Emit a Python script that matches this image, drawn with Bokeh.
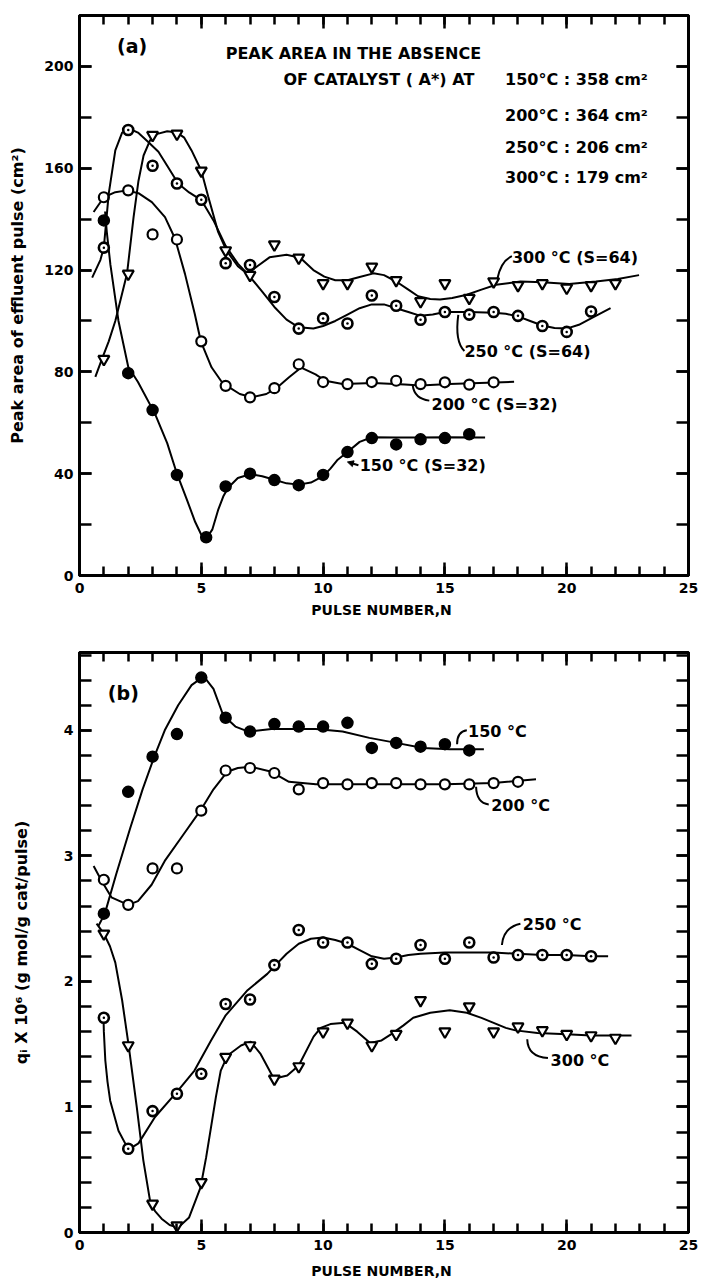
from bokeh.plotting import figure
from bokeh.layouts import column
from bokeh.models import LinearAxis, FixedTicker, Range1d, Arrow, NormalHead
from bokeh.core.properties import value
from bokeh.embed import file_html
from bokeh.resources import INLINE

FONT = "DejaVu Sans"

# ---------------- Panel (a): peak area of effluent pulse (cm^2) ----------------
a150_x = [1, 2, 3, 4, 5.2, 6, 7, 8, 9, 10, 11, 12, 13, 14, 15, 16]
a150_y = [139.5, 79.5, 65, 39.5, 15, 35, 40, 37.5, 35.5, 39.5, 48.5, 54, 51.5, 53.5, 54, 55.5]

a200_x = list(range(1, 18))
a200_y = [148.6, 151.3, 134, 132, 92, 74.5, 70, 73.6, 83, 76, 75.2, 76, 76.5, 75.2, 75.9, 75, 75.9]

a250_x = list(range(1, 22))
a250_y = [128.8, 175, 161, 154, 147.6, 122.7, 122, 109.4, 97, 101, 99, 110, 106, 100.5,
          103.5, 102.5, 103.5, 102, 98, 95.7, 103.7]

a300_x = list(range(1, 23))
a300_y = [85, 118.5, 173, 173.5, 159, 127.7, 118, 130, 124.8, 114.8, 114.8, 121.3, 116, 107.7,
          114.8, 109, 115.5, 114, 114.8, 113, 114, 114.8]

# hand-drawn smooth curves (vertices)
c150a_x = [1.05, 1.12, 1.27, 1.6, 2.0, 2.4, 3.1, 3.6, 4.0, 4.4, 4.75, 5.0, 5.1, 5.2, 5.45, 5.7, 5.9,
           6.1, 6.5, 7.0, 7.5, 8.0, 8.5, 9.0, 9.5, 10.0, 10.3, 10.6, 11.0, 11.5, 12.0, 13.0, 14.0,
           15.0, 16.65]
c150a_y = [143, 135, 122, 100, 82, 76, 63.5, 52, 40, 30, 21, 16, 15, 14.5, 18, 26, 31,
           34.5, 38.3, 39.8, 39, 37.6, 36.2, 35.7, 36.5, 39, 42, 45.5, 48.5, 52.5, 54.3, 54.2, 54.2,
           54.3, 54.2]

c200a_x = [0.58, 1.0, 1.47, 1.95, 2.42, 2.97, 3.51, 3.92, 4.33, 4.73, 4.98, 5.42, 5.82, 6.1, 6.58,
           7.07, 7.67, 8.08, 8.59, 9.1, 9.69, 10.09, 10.8, 12.07, 13.35, 14.0, 15.18, 17.84]
c200a_y = [142.8, 148.6, 150.6, 151.3, 150.2, 146.7, 140.8, 132.4, 118.5, 102.8, 92, 81.8, 76.3, 74.2, 71.3,
           70, 71.3, 73.6, 77.8, 81.7, 79, 76.5, 75.2, 75.6, 75, 74.6, 75.2, 76.1]

c250a_x = [0.52, 0.86, 1.0, 1.2, 1.47, 1.75, 2.05, 2.4, 2.8, 3.24, 3.6, 4.05, 4.5, 5.0, 5.5, 6.0,
           6.5, 6.9, 7.5, 8.0, 8.5, 9.0, 9.6, 10.0, 10.5, 11.0, 11.5, 12.0, 12.5, 13.0, 13.5, 14.0,
           14.5, 15.0, 16.0, 17.0, 17.5, 18.0, 18.5, 19.0, 19.5, 20.0, 20.5, 21.0, 21.8]
c250a_y = [117, 124, 129, 150, 167, 174, 175.5, 174, 170.5, 166.5, 161, 154, 150.5, 147.5, 139.5, 129.5,
           122.5, 118.5, 111.5, 105.5, 100.5, 97.5, 97, 98, 100, 102.5, 105, 106.5, 106.5, 105, 103.5, 102,
           102.5, 103.5, 103.5, 103.2, 102.8, 101.8, 100, 98.2, 97.2, 97.0, 98.5, 101, 105]

c300a_x = [0.65, 0.92, 1.2, 1.47, 1.95, 2.22, 2.42, 2.63, 2.9, 3.2, 3.6, 4.0, 4.3, 4.6, 5.0, 5.28,
           5.69, 6.03, 6.5, 6.9, 7.3, 7.8, 8.5, 9.06, 9.6, 10.05, 10.5, 11.0, 11.5, 12.07, 12.5, 13.0,
           13.5, 13.9, 14.4, 14.8, 15.3, 15.9, 16.5, 17.1, 18.1, 19.0, 20.1, 21.2, 22.1, 22.97]
c300a_y = [78, 85, 92, 100, 118.5, 140.8, 155, 165, 171, 173.5, 174.5, 174, 172, 167, 159, 149,
           135, 127.7, 121.5, 118.5, 121.5, 125, 126, 124.8, 120, 117.4, 116, 116, 117.3, 118.7, 118, 115.5,
           112.3, 109.7, 108.6, 108.4, 109, 110.3, 112.3, 114.2, 115.5, 115.2, 114.5, 115.5, 116.5, 118]

a_notes = ["PEAK AREA IN THE ABSENCE", "OF CATALYST ( A*) AT",
           "150°C : 358 cm²", "200°C : 364 cm²", "250°C : 206 cm²", "300°C : 179 cm²"]
a_series_labels = ["300 °C (S=64)", "250 °C (S=64)", "200 °C (S=32)", "150 °C (S=32)"]

# ---------------- Panel (b): q_i x 10^6 ----------------
b150_x = list(range(1, 17))
b150_y = [2.54, 3.51, 3.79, 3.97, 4.42, 4.10, 3.99, 4.05, 4.03, 4.03, 4.06, 3.86, 3.90, 3.87, 3.89, 3.84]

b200_x = list(range(1, 19))
b200_y = [2.81, 2.61, 2.90, 2.90, 3.36, 3.68, 3.70, 3.66, 3.53, 3.58, 3.57, 3.58, 3.58, 3.57, 3.57,
          3.57, 3.58, 3.59]

b250_x = list(range(1, 22))
b250_y = [1.71, 0.667, 0.967, 1.105, 1.264, 1.82, 1.856, 2.13, 2.41, 2.31, 2.31, 2.14, 2.18, 2.29,
          2.18, 2.31, 2.19, 2.21, 2.21, 2.21, 2.2]

b300_x = list(range(1, 23))
b300_y = [2.38, 1.49, 0.229, 0.056, 0.40, 1.397, 1.49, 1.224, 1.323, 1.6, 1.67, 1.49, 1.58, 1.85,
          1.6, 1.8, 1.6, 1.64, 1.61, 1.58, 1.57, 1.55]

c150b_x = [0.77, 1.04, 1.5, 2.08, 2.59, 3.07, 3.5, 4.05, 4.6, 5.1, 5.5, 5.9, 6.4, 6.93, 7.88, 9.7,
           10.8, 11.9, 13.0, 14.1, 15.2, 16.6]
c150b_y = [2.44, 2.54, 2.85, 3.22, 3.53, 3.79, 4.0, 4.2, 4.36, 4.43, 4.33, 4.12, 4.03, 3.99, 4.01, 4.01,
           3.99, 3.94, 3.9, 3.86, 3.85, 3.85]

c200b_x = [0.58, 0.91, 1.31, 2.0, 2.4, 2.96, 3.5, 4.23, 4.96, 5.5, 6.06, 6.5, 7.03, 7.88, 8.6, 9.7,
           11.5, 13.36, 15.0, 17.0, 18.74]
c200b_y = [2.92, 2.8, 2.67, 2.61, 2.64, 2.77, 2.96, 3.16, 3.36, 3.53, 3.67, 3.7, 3.71, 3.67, 3.59, 3.57,
           3.57, 3.57, 3.57, 3.58, 3.61]

c250b_x = [0.98, 1.0, 1.06, 1.15, 1.26, 1.6, 2.01, 2.42, 3.1, 4.0, 4.72, 5.4, 6.0, 6.9, 7.71, 8.05,
           8.5, 9.0, 9.5, 10.0, 10.5, 11.0, 11.5, 12.0, 12.5, 13.0, 13.5, 14.0, 15.0, 16.0, 17.0, 18.0,
           19.0, 20.0, 21.0, 21.7]
c250b_y = [1.75, 1.6, 1.37, 1.2, 1.05, 0.81, 0.66, 0.71, 0.92, 1.12, 1.29, 1.53, 1.73, 1.93, 2.06, 2.13,
           2.22, 2.30, 2.34, 2.35, 2.33, 2.30, 2.25, 2.20, 2.18, 2.19, 2.21, 2.22, 2.23, 2.23, 2.23, 2.22,
           2.21, 2.21, 2.2, 2.2]

c300b_x = [0.7, 1.0, 1.25, 1.47, 1.75, 2.01, 2.35, 2.62, 2.89, 3.1, 3.37, 3.7, 4.05, 4.5, 4.97, 5.2,
           5.4, 5.6, 5.8, 6.08, 6.63, 7.03, 7.44, 7.98, 8.53, 9.0, 9.61, 9.9, 10.3, 10.9, 11.4, 11.93,
           12.4, 12.8, 13.3, 13.7, 14.4, 15.2, 15.9, 16.5, 17.0, 17.5, 17.9, 18.8, 20.0, 21.0, 22.66]
c300b_y = [2.46, 2.38, 2.28, 2.15, 1.85, 1.5, 1.0, 0.575, 0.26, 0.17, 0.11, 0.06, 0.04, 0.12, 0.36, 0.6,
           0.84, 1.08, 1.29, 1.41, 1.49, 1.52, 1.42, 1.225, 1.25, 1.33, 1.56, 1.63, 1.66, 1.67, 1.6, 1.51,
           1.53, 1.58, 1.65, 1.71, 1.75, 1.77, 1.75, 1.71, 1.67, 1.63, 1.61, 1.59, 1.58, 1.57, 1.57]

b_series_labels = ["150 °C", "200 °C", "250 °C", "300 °C"]

x_major = [0, 5, 10, 15, 20, 25]
x_minor = list(range(0, 26))
a_y_major = [0, 40, 80, 120, 160, 200]
a_y_minor = list(range(0, 221, 20))
b_y_major = [0, 1, 2, 3, 4]
b_y_minor = [round(0.2 * i, 1) for i in range(0, 24)]


def style_axes(p, yticks, yminor, ylabel, ylabel_standoff, xlabel_standoff):
    bottom = p.below[0]
    left = p.left[0]
    xt = FixedTicker(ticks=x_major, minor_ticks=x_minor)
    yt = FixedTicker(ticks=yticks, minor_ticks=yminor)
    bottom.ticker = xt
    left.ticker = yt
    top = LinearAxis(ticker=FixedTicker(ticks=x_major, minor_ticks=x_minor))
    right = LinearAxis(ticker=FixedTicker(ticks=yticks, minor_ticks=yminor))
    for ax in [bottom, top]:
        ax.major_tick_in = 13
        ax.minor_tick_in = 9
    for ax in [left, right]:
        ax.major_tick_in = 12
        ax.minor_tick_in = 12
    for ax in [bottom, left, top, right]:
        ax.major_tick_out = 0
        ax.minor_tick_out = 0
        ax.axis_line_width = 3
        ax.major_tick_line_width = 2.5
        ax.minor_tick_line_width = 2.5
        ax.axis_line_color = "black"
        ax.major_tick_line_color = "black"
        ax.minor_tick_line_color = "black"
        ax.major_label_text_font = FONT
        ax.major_label_text_font_style = "bold"
        ax.major_label_text_font_size = "14px"
        ax.major_label_text_color = "black"
    for ax in [top, right]:
        ax.major_label_text_color = None
        ax.major_label_text_font_size = "1px"
        ax.major_label_standoff = 0
    p.add_layout(top, "above")
    p.add_layout(right, "right")
    bottom.major_label_standoff = 7
    left.major_label_standoff = 6
    bottom.axis_label = "PULSE  NUMBER,N"
    left.axis_label = ylabel
    for ax in [bottom, left]:
        ax.axis_label_text_font = FONT
        ax.axis_label_text_font_style = "bold"
        ax.axis_label_text_font_size = "16px"
        ax.axis_label_text_color = "black"
    bottom.axis_label_text_font_size = "14px"
    bottom.axis_label_standoff = xlabel_standoff
    left.axis_label_standoff = ylabel_standoff
    left.major_label_overrides = {t: "" for t in yminor if t not in yticks}
    p.xgrid.visible = False
    p.ygrid.visible = False
    p.outline_line_color = "black"
    p.outline_line_width = 3


def draw_series(p, cx, cy, px, py, marker, fill, lw, size):
    p.line(cx, cy, line_color="black", line_width=2)
    p.scatter(px, py, marker=marker, size=size, fill_color=fill, line_color="black", line_width=lw)


def txt(p, xs, ys, texts, size="16px", align="left"):
    p.text(x=xs, y=ys, text=texts, text_font=value(FONT), text_font_style="bold",
           text_font_size=value(size), text_baseline="middle", text_align=align, text_color="black")


# ---------------- figure (a) ----------------
pa = figure(width=700, height=625, x_range=Range1d(0, 25), y_range=Range1d(0, 220),
            output_backend="svg", toolbar_location=None,
            min_border_left=79, min_border_right=8, min_border_top=15, min_border_bottom=50)
style_axes(pa, a_y_major, a_y_minor, "Peak area of effluent pulse (cm²)", 14, 6)

draw_series(pa, c150a_x, c150a_y, a150_x, a150_y, "circle", "black", 1.5, 11)
draw_series(pa, c200a_x, c200a_y, a200_x, a200_y, "circle", "white", 2.2, 10)
draw_series(pa, c250a_x, c250a_y, a250_x, a250_y, "circle_dot", "white", 2.6, 10)
draw_series(pa, c300a_x, c300a_y, a300_x, a300_y, "inverted_triangle", "white", 2.2, 11)

txt(pa, [2.16], [208], ["(a)"], size="19px", align="center")
txt(pa, [6.0, 8.37, 17.47, 17.47, 17.47, 17.47], [205.2, 194.8, 194.8, 180.7, 168.3, 156.5], a_notes)
txt(pa, [17.75, 15.8, 14.45, 11.5], [124.8, 87.9, 67.2, 43.1], a_series_labels)

# leaders (a)
pa.quadratic(x0=[17.15, 15.55, 13.68], y0=[116.5, 102.4, 74.6],
             x1=[17.75, 15.8, 14.36], y1=[125.5, 88.2, 68.7],
             cx=[17.3, 15.4, 13.75], cy=[123.5, 92, 69.5], line_color="black", line_width=2)
pa.add_layout(Arrow(end=NormalHead(size=6, fill_color="black", line_color="black"),
                    x_start=11.45, y_start=43.3, x_end=11.0, y_end=44.6, line_width=2))

# ---------------- figure (b) ----------------
pb = figure(width=700, height=657, x_range=Range1d(0, 25), y_range=Range1d(0, 4.62),
            output_backend="svg", toolbar_location=None,
            min_border_left=74, min_border_right=12, min_border_top=27, min_border_bottom=50)
style_axes(pb, b_y_major, b_y_minor, "qᵢ X 10⁶ (g mol/g cat/pulse)", 30, 10)

draw_series(pb, c150b_x, c150b_y, b150_x, b150_y, "circle", "black", 1.5, 11)
draw_series(pb, c200b_x, c200b_y, b200_x, b200_y, "circle", "white", 2.2, 10)
draw_series(pb, c250b_x, c250b_y, b250_x, b250_y, "circle_dot", "white", 2.6, 10)
draw_series(pb, c300b_x, c300b_y, b300_x, b300_y, "inverted_triangle", "white", 2.2, 11)

txt(pb, [1.8], [4.3], ["(b)"], size="19px", align="center")
txt(pb, [15.95, 16.9, 18.2, 19.34], [3.99, 3.40, 2.45, 1.37], b_series_labels)

pb.quadratic(x0=[15.5, 16.28, 17.34, 18.38], y0=[3.89, 3.55, 2.29, 1.54],
             x1=[15.9, 16.8, 18.1, 19.23], y1=[4.0, 3.41, 2.46, 1.39],
             cx=[15.5, 16.3, 17.4, 18.4], cy=[3.99, 3.42, 2.43, 1.40],
             line_color="black", line_width=2)

layout = column(pa, pb)
open("out.html", "w").write(file_html(layout, INLINE))
